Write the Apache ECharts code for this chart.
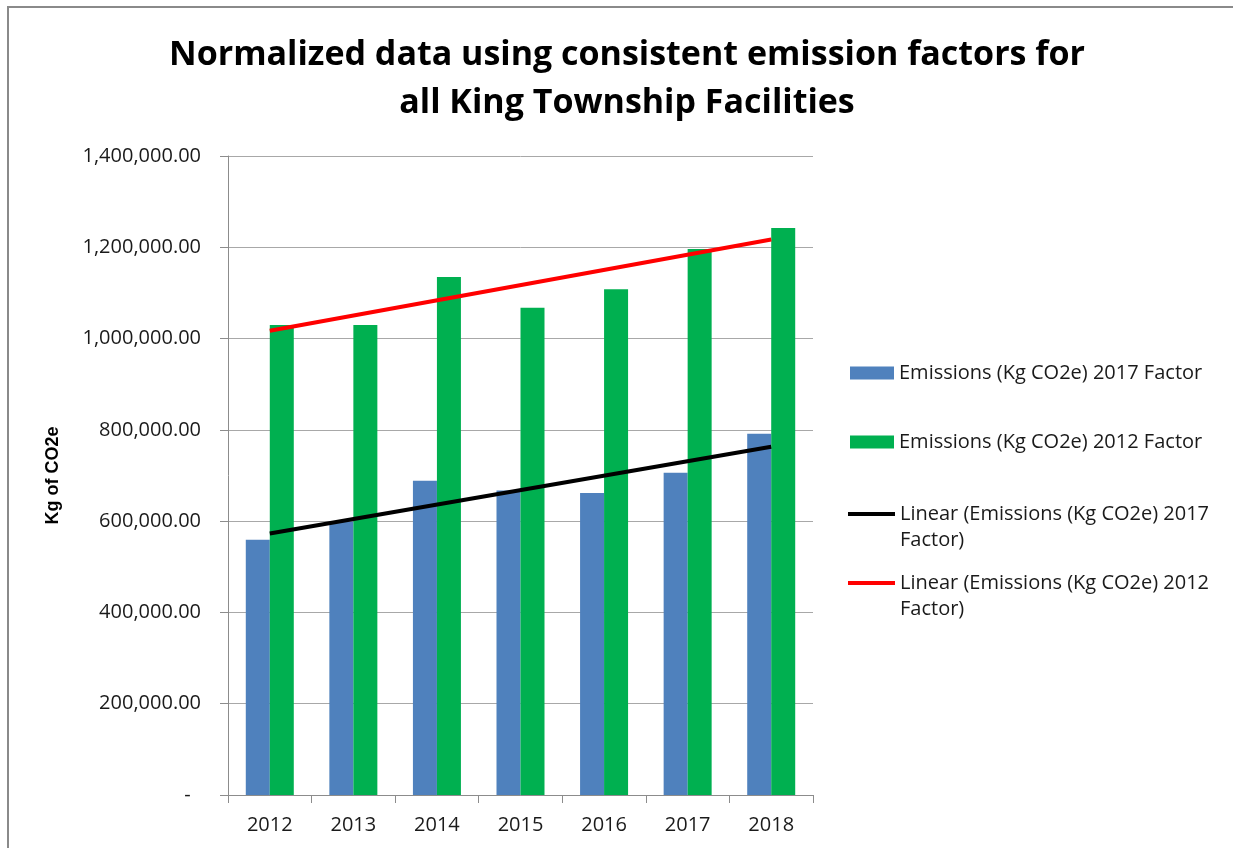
<!DOCTYPE html>
<html>
<head>
<meta charset="utf-8">
<script src="https://cdn.jsdelivr.net/npm/echarts@6/dist/echarts.min.js"></script>
<style>
html,body{margin:0;padding:0;background:#fff;}
#chart{width:1233px;height:848px;}
</style>
</head>
<body>
<div id="chart"></div>
<script>
var categories = ['2012','2013','2014','2015','2016','2017','2018'];
var yTicks = [0, 200000, 400000, 600000, 800000, 1000000, 1200000, 1400000];
var emissions2017Factor = [559000, 599000, 688500, 667000, 661500, 706000, 791500];
var emissions2012Factor = [1030000, 1030000, 1135000, 1067500, 1108000, 1196000, 1242500];
// trend line end points (first and last category)
var trend2017Factor = [573000, null, null, null, null, null, 763000];
var trend2012Factor = [1017000, null, null, null, null, null, 1217000];

var names = [
  'Emissions (Kg CO2e) 2017 Factor',
  'Emissions (Kg CO2e) 2012 Factor',
  'Linear (Emissions (Kg CO2e) 2017 Factor)',
  'Linear (Emissions (Kg CO2e) 2012 Factor)'
];

var FONT = 'Open Sans';
var chart = echarts.init(document.getElementById('chart'));

function fmt(v){
  if (v === 0) return '-  ';
  return v.toLocaleString('en-US', {minimumFractionDigits:2, maximumFractionDigits:2});
}
function legendFmt(n){
  if (n === names[2]) return '\nLinear (Emissions (Kg CO2e) 2017\nFactor)';
  if (n === names[3]) return '\nLinear (Emissions (Kg CO2e) 2012\nFactor)';
  return n;
}
var LH = 26;
function mkLegend(name, top, isRect){
  return {
    data: [name],
    orient: 'vertical',
    left: isRect ? 850 : 848,
    top: top,
    itemWidth: isRect ? 44 : 47,
    itemHeight: isRect ? 13 : 4,
    icon: 'rect',
    padding: 0,
    itemGap: 0,
    selectedMode: false,
    formatter: legendFmt,
    textStyle: {fontFamily: FONT, fontSize: 20, color: '#1a1a1a', lineHeight: LH}
  };
}

chart.setOption({
  animation: false,
  backgroundColor: '#ffffff',
  title: {
    text: 'Normalized data using consistent emission factors for\nall King Township Facilities',
    left: 622,
    textAlign: 'center',
    top: 26,
    textStyle: {fontFamily: FONT, fontWeight: 'bold', fontSize: 34, lineHeight: 48, color: '#000'}
  },
  graphic: [{
    type: 'rect',
    shape: {x: 8, y: 7, width: 1300, height: 900},
    style: {fill: 'none', stroke: '#8a8a8a', lineWidth: 2},
    silent: true
  }],
  legend: [
    mkLegend(names[0], 360, true),
    mkLegend(names[1], 429, true),
    mkLegend(names[2], 475, false),
    mkLegend(names[3], 544, false)
  ],
  grid: {left: 228, right: 420, top: 156, bottom: 53, containLabel: false},
  xAxis: {
    type: 'category',
    data: categories,
    boundaryGap: true,
    axisLine: {lineStyle: {color: '#8c8c8c', width: 1}},
    axisTick: {show: true, length: 8, lineStyle: {color: '#8c8c8c'}},
    axisLabel: {fontFamily: FONT, fontSize: 20, color: '#1a1a1a', margin: 20}
  },
  yAxis: {
    type: 'value',
    min: yTicks[0],
    max: yTicks[yTicks.length - 1],
    interval: yTicks[1] - yTicks[0],
    name: 'Kg of CO2e',
    nameLocation: 'middle',
    nameRotate: 90,
    nameGap: 166,
    nameTextStyle: {fontFamily: 'Liberation Sans', fontWeight: 'bold', fontSize: 18, color: '#000'},
    axisLine: {show: true, lineStyle: {color: '#8c8c8c', width: 1}},
    axisTick: {show: true, length: 8, lineStyle: {color: '#8c8c8c'}},
    splitLine: {show: true, lineStyle: {color: '#a8a8a8', width: 1}},
    axisLabel: {fontFamily: FONT, fontSize: 20, color: '#1a1a1a', margin: 27, formatter: fmt}
  },
  series: [
    {
      name: names[0], type: 'bar', data: emissions2017Factor,
      barWidth: 24, barGap: '0%',
      itemStyle: {color: '#4F81BD'}
    },
    {
      name: names[1], type: 'bar', data: emissions2012Factor,
      barWidth: 24, barGap: '0%',
      itemStyle: {color: '#00B050'}
    },
    {
      name: names[2], type: 'line', data: trend2017Factor, connectNulls: true,
      symbol: 'none', lineStyle: {color: '#000000', width: 4}, itemStyle: {color: '#000000'}, z: 5
    },
    {
      name: names[3], type: 'line', data: trend2012Factor, connectNulls: true,
      symbol: 'none', lineStyle: {color: '#FF0000', width: 4}, itemStyle: {color: '#FF0000'}, z: 5
    }
  ]
});
</script>
</body>
</html>
